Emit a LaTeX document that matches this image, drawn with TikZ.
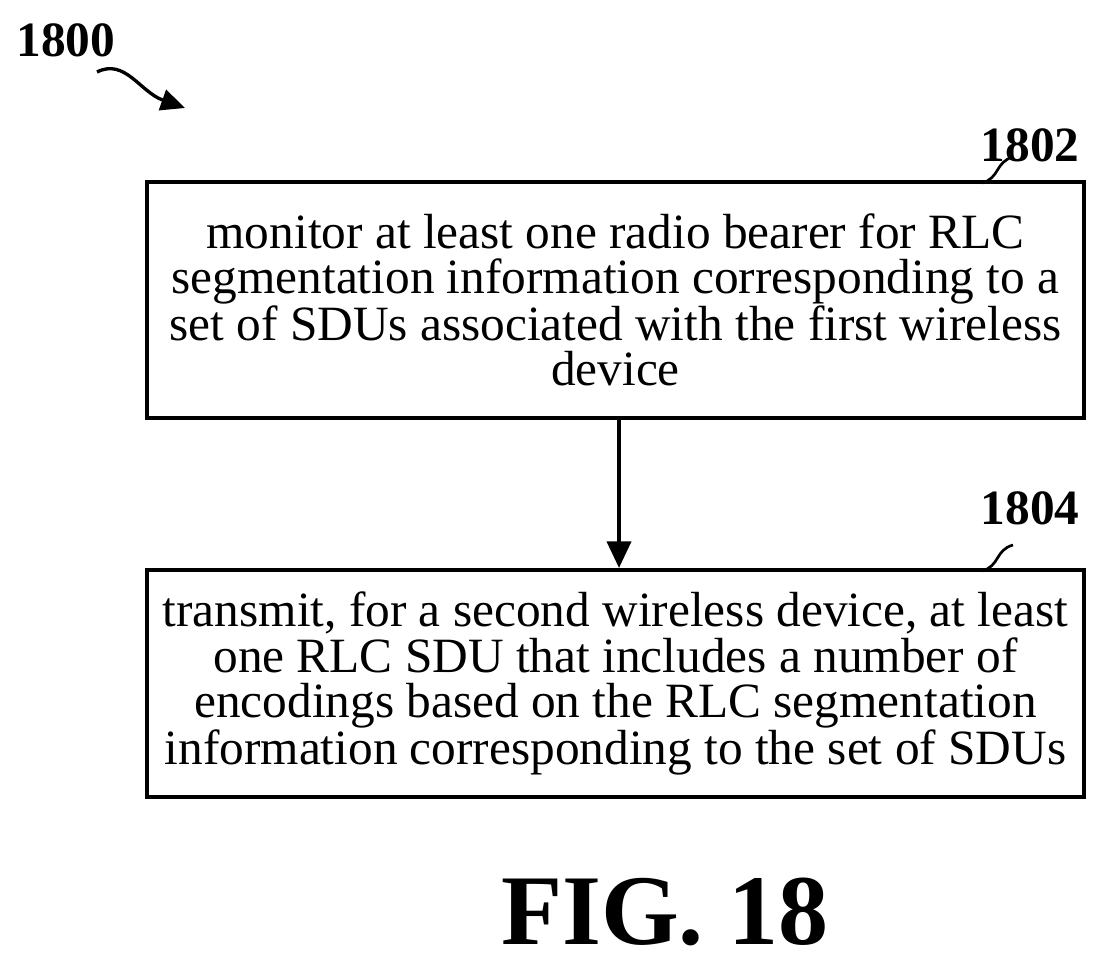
\documentclass[tikz,border=0pt]{standalone}
\usepackage{fontspec}
\setmainfont{Liberation Serif}
\usetikzlibrary{positioning,arrows.meta}
\tikzset{
  stepbox/.style={draw, line width=3pt, minimum width=937*0.75pt, align=center,
    font=\fontsize{37}{34}\selectfont, inner sep=0pt},
  tag/.style={font=\bfseries\fontsize{37}{37}\selectfont},
}
\begin{document}
\begin{tikzpicture}[x=0.75pt, y=-0.75pt]
% Set the size of the figure
\useasboundingbox (0,0) rectangle (1114,966);

\node[stepbox, minimum height=236*0.75pt] (monitor) at (615.5,300) {monitor at least one radio bearer for RLC\\segmentation information corresponding to a\\set of SDUs associated with the first wireless\\device};
\node[stepbox, minimum height=227*0.75pt] (transmit) at (615.5,683.5) {transmit, for a second wireless device, at least\\one RLC SDU that includes a number of\\encodings based on the RLC segmentation\\information corresponding to the set of SDUs};

\draw[line width=3pt, -{Triangle[length=20pt, width=18pt]}] (monitor.south -| 619,0) -- (transmit.north -| 619,0);

% Reference labels
\node[tag] (fig) at (66,40) {1800};
\node[tag] (lblA) at (1030,145) {1802};
\node[tag] (lblB) at (1030,508) {1804};
\coordinate (figEnd) at (185,108);
\coordinate (boxA) at (982,183);
\coordinate (boxB) at (982,571);
\draw[line width=2.5pt, -{Triangle[length=18pt, width=16pt]}] (97,72) .. controls (125,58) and (140,92) .. (figEnd);
\draw[line width=2pt] (boxA) .. controls (1000,178) and (995,162) .. (1013,157);
\draw[line width=2pt] (boxB) .. controls (1000,566) and (995,550) .. (1013,545);

\node[font=\bfseries\fontsize{75}{75}\selectfont] (caption) at (665,912) {FIG. 18};
\end{tikzpicture}
\end{document}
